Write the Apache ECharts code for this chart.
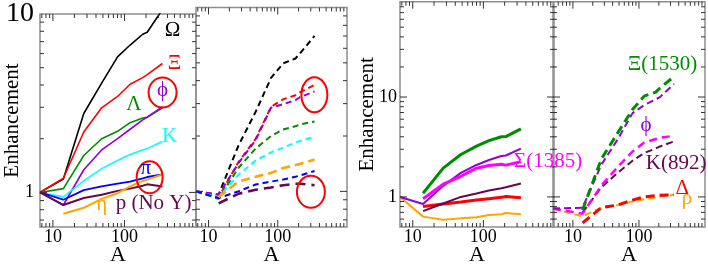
<!DOCTYPE html>
<html><head><meta charset="utf-8">
<script src="https://cdn.jsdelivr.net/npm/echarts@6/dist/echarts.min.js"></script>
<style>html,body{margin:0;padding:0;background:#fff}#c{width:708px;height:271px}</style>
</head><body><div id="c"></div>
<script>
// ---------- DATA ----------
const A_LEFT  = [6.6, 14, 27, 48, 80, 120, 180, 208, 340];   // panels 1-3
const A_RIGHT = [5,   14, 27, 48, 80, 120, 180, 208, 340];   // panel 4
const X_TICK_LABELS = [10, 100];
const Y_TICK_LABELS = [1, 10];

// Panel 1 (solid)
const omegaS  = [1, 1.19, 2.77, 4.1, 5.75, 6.7, 7.7, 7.9, 10.6];
const xiS     = [1, 1.20, 2.18, 2.98, 3.45, 4.04, 4.4, 4.57, 5.28];
const lambdaS = [1, 1.05, 1.61, 2.0, 2.2, 2.46, 2.61, 2.64, 2.98];
const phiS    = [1, 0.85, 1.34, 1.73, 2.0, 2.26, 2.55, 2.64, 3.02];
const kaonS   = [1, 0.945, 1.16, 1.36, 1.51, 1.63, 1.73, 1.76, 1.93];
const pionS   = [1, 0.91, 1.03, 1.08, 1.12, 1.15, 1.2, 1.22, 1.26];
const protS   = [1, 0.85, 0.93, 0.97, 1.02, 1.05, 1.09, 1.11, 1.08];
const etaS    = [null, 0.76, 0.82, 0.92, 0.99, 1.08, 1.16, 1.18, 1.26];

// Panel 2 (dashed)
const omegaD  = [1, 0.96, 1.77, 2.71, 4.14, 4.97, 5.28, 5.61, 7.0];
const xiD     = [1, 0.93, 1.44, 1.93, 2.88, 3.17, 3.33, 3.45, 3.8];
const lambdaD = [1, 0.91, 1.34, 1.71, 2.0, 2.17, 2.26, 2.31, 2.4];
const phiD    = [1, 0.96, 1.42, 1.9, 2.85, 2.98, 3.13, 3.25, 3.5];
const kaonD   = [1, 0.93, 1.23, 1.47, 1.63, 1.73, 1.84, 1.88, 1.98];
const pionD   = [1, 0.92, 1.0, 1.09, 1.13, 1.16, 1.2, 1.22, 1.29];
const protD   = [null, 0.86, 0.97, 1.02, 1.05, 1.08, 1.1, 1.1, 1.08];
const etaD    = [null, 0.93, 1.13, 1.2, 1.26, 1.34, 1.39, 1.41, 1.49];

// Panel 3 (solid, resonances)
const xi1530S = [null, 1.09, 1.94, 2.66, 3.22, 3.66, 4.0, 4.02, 4.8];
const phiRS   = [1, 0.85, 1.29, 1.74, 2.09, 2.34, 2.57, 2.6, 3.04];
const sigmaS  = [null, 0.96, 1.34, 1.61, 1.94, 2.06, 2.12, 2.08, 2.25];
const kstarS  = [null, 0.72, 0.86, 1.0, 1.08, 1.16, 1.22, 1.25, 1.36];
const deltaS  = [null, 0.8, 0.85, 0.89, 0.93, 0.96, 0.99, 1.01, 0.98];
const rhoS    = [1, 0.635, 0.59, 0.61, 0.625, 0.66, 0.67, 0.69, 0.67];

// Panel 4 (dashed, resonances)
const xi1530D = [null, 0.74, 2.4, 4.4, 7.5, 10.2, 11.2, 12.3, 16.0];
const phiRD   = [0.765, 0.78, 2.1, 3.8, 6.9, 8.3, 9.5, 10.0, 13.5];
const sigmaD  = [0.765, 0.68, 1.3, 2.0, 2.85, 3.5, 3.8, 3.9, 4.1];
const kstarD  = [null, 0.7, 1.25, 1.75, 2.3, 2.75, 3.05, 3.2, 3.6];
const deltaD  = [null, 0.55, 0.78, 0.83, 0.93, 1.0, 1.03, 1.04, 1.05];
const rhoD    = [0.76, 0.64, 0.78, 0.83, 0.9, 0.95, 0.99, 1.01, 1.05];

// ---------- STYLE ----------
const FONT = '"Liberation Serif","DejaVu Serif",serif';
const C = {black:'#000000', red:'#ff0000', green:'#008c00', purple:'#9400d3', cyan:'#00ffff',
           blue:'#0000ff', maroon:'#67074e', orange:'#ffa500', magenta:'#ff00ff'};

const seriesDefs = [
  [0, A_LEFT, omegaS, C.black, 1.6, null],
  [0, A_LEFT, xiS, C.red, 1.6, null],
  [0, A_LEFT, lambdaS, C.green, 1.6, null],
  [0, A_LEFT, phiS, C.purple, 1.6, null],
  [0, A_LEFT, kaonS, C.cyan, 1.6, null],
  [0, A_LEFT, pionS, C.blue, 1.8, null],
  [0, A_LEFT, protS, C.maroon, 2, null],
  [0, A_LEFT, etaS, C.orange, 2, null],
  [1, A_LEFT, omegaD, C.black, 2, [6,4]],
  [1, A_LEFT, xiD, C.red, 2, [6,4]],
  [1, A_LEFT, lambdaD, C.green, 2, [6,4]],
  [1, A_LEFT, phiD, C.purple, 2, [6,4]],
  [1, A_LEFT, kaonD, C.cyan, 2, [6,4]],
  [1, A_LEFT, pionD, C.blue, 2, [6,4]],
  [1, A_LEFT, protD, C.maroon, 2.6, [10,6]],
  [1, A_LEFT, etaD, C.orange, 2.6, [9,5]],
  [2, A_LEFT, rhoS, C.orange, 2, null],
  [2, A_LEFT, deltaS, C.red, 3, null],
  [2, A_LEFT, kstarS, C.maroon, 2, null],
  [2, A_LEFT, phiRS, C.purple, 2, null],
  [2, A_LEFT, sigmaS, C.magenta, 3, null],
  [2, A_LEFT, xi1530S, C.green, 3, null],
  [3, A_RIGHT, rhoD, C.orange, 2, [7,4]],
  [3, A_RIGHT, deltaD, C.red, 3, [9,5]],
  [3, A_RIGHT, kstarD, C.maroon, 2, [7,4]],
  [3, A_RIGHT, sigmaD, C.magenta, 2.5, [8,5]],
  [3, A_RIGHT, phiRD, C.purple, 2, [7,4]],
  [3, A_RIGHT, xi1530D, C.green, 3, [9,5]]
];

const LABELS = [
  [0, 470, 8.08, 'Ω', C.black], [0, 502, 5.28, 'Ξ', C.red], [0, 341, 3.71, 'ϕ', C.purple],
  [0, 135, 3.13, 'Λ', C.green], [0, 427, 2.05, 'K', C.cyan], [0, 198, 1.355, 'π', C.blue],
  [0, 255, 0.864, 'p (No Y)', C.maroon], [0, 48, 0.854, 'η', C.orange],
  [2, 828, 2.24, 'Σ(1385)', C.magenta],
  [3, 228, 21.4, 'Ξ(1530)', C.green], [3, 128, 5.23, 'ϕ', C.purple], [3, 366, 2.14, 'K(892)', C.maroon],
  [3, 451, 1.22, 'Δ', C.red], [3, 536, 0.956, 'ρ', C.orange]
];
const ELLIPSES = [
  [0, 341, 3.63, 14, 15], [0, 225, 1.215, 13, 16],
  [1, 338, 3.35, 13, 17.5], [1, 301, 0.994, 14, 16]
];

const grids = [
  {left:40, top:7.5, width:156, height:226.5},
  {left:196, top:7.5, width:151, height:226.5},
  {left:400, top:1.7, width:154, height:232.3},
  {left:553, top:1.7, width:152, height:232.3}
];
const X_EXT = [[6.6,1000],[6.6,1000],[6.6,1000],[5,1000]];
const Y_EXT = [[0.64,10],[0.64,10],[0.5,90],[0.5,90]];

const isIn = (arr, v) => arr.some(t => Math.abs(Math.log10(v) - Math.log10(t)) < 1e-6);

const chart = echarts.init(document.getElementById('c'));
const option = {
  animation: false,
  backgroundColor: '#fff',
  grid: grids.map(g => Object.assign({show:true, borderColor:'#8e8e8e', borderWidth:1.5, backgroundColor:'transparent'}, g)),
  xAxis: grids.map((g, i) => ({
    type:'log', logBase:10, gridIndex:i, min:X_EXT[i][0], max:X_EXT[i][1],
    axisLine:{show:false}, axisTick:{show:false}, splitLine:{show:false},
    axisLabel:{fontFamily:FONT, fontSize:18, color:'#000', margin:1,
      formatter: v => isIn(X_TICK_LABELS, v) ? String(Math.round(v)) : ''},
    name:'A', nameLocation:'middle', nameGap:17, nameMoveOverlap:false,
    nameTextStyle:{fontFamily:FONT, fontSize:22, color:'#000'}
  })),
  yAxis: grids.map((g, i) => ({
    type:'log', logBase:10, gridIndex:i, min:Y_EXT[i][0], max:Y_EXT[i][1],
    axisLine:{show:false}, axisTick:{show:false}, splitLine:{show:false},
    axisLabel:{show: i===0 || i===2, fontFamily:FONT, fontSize:18, color:'#000', margin: i===0 ? 6 : 3,
      formatter: v => {
        if (!isIn(Y_TICK_LABELS, v)) return '';
        const s = String(Math.round(v));
        return (i===0 && s==='10') ? '{big|10}' : s;
      },
      rich:{big:{fontFamily:FONT, fontSize:28, color:'#000'}}},
    name: (i===0 || i===2) ? 'Enhancement' : '', nameLocation:'middle', nameRotate:90,
    nameGap: i===0 ? 17 : 22, nameMoveOverlap:false,
    nameTextStyle:{fontFamily:FONT, fontSize:21, color:'#000'}
  })),
  series: seriesDefs.map(([g, xs, ys, color, w, dash]) => ({
    type:'line', xAxisIndex:g, yAxisIndex:g, showSymbol:false, symbol:'none', clip:true,
    connectNulls:false,
    data: xs.map((x, k) => ys[k] == null ? null : [x, ys[k]]).filter(d => d),
    lineStyle:{color, width:w, type: dash ? dash : 'solid', cap:'butt'},
    itemStyle:{color}
  }))
};
chart.setOption(option);

// ---------- ticks, labels, ellipses via library scales ----------
const graphics = [];
function logTicks(lo, hi) {
  const out = [];
  for (let d = Math.floor(Math.log10(lo)); d <= Math.ceil(Math.log10(hi)); d++) {
    for (let k = 1; k <= 9; k++) {
      const v = k * Math.pow(10, d);
      if (v > lo * 1.0001 && v < hi * 0.9999) out.push([v, k === 1]);
    }
  }
  return out;
}
function seg(x1, y1, x2, y2) {
  graphics.push({type:'line', silent:true, z:50, shape:{x1, y1, x2, y2}, style:{stroke:'#333', lineWidth:1}});
}
grids.forEach((g, i) => {
  const p0 = chart.convertToPixel({gridIndex:i}, [X_EXT[i][0], Y_EXT[i][0]]);
  const p1 = chart.convertToPixel({gridIndex:i}, [X_EXT[i][1], Y_EXT[i][1]]);
  const xl = p0[0], xr = p1[0], yb = p0[1], yt = p1[1];
  logTicks(X_EXT[i][0], X_EXT[i][1]).forEach(([v, major]) => {
    const px = chart.convertToPixel({gridIndex:i}, [v, Y_EXT[i][0]])[0];
    const L = major ? 7 : 4;
    seg(px, yb, px, yb - L); seg(px, yt, px, yt + L);
  });
  logTicks(Y_EXT[i][0], Y_EXT[i][1]).forEach(([v, major]) => {
    const py = chart.convertToPixel({gridIndex:i}, [X_EXT[i][0], v])[1];
    const L = major ? 7 : 4;
    seg(xl, py, xl + L, py); seg(xr, py, xr - L, py);
  });
});
ELLIPSES.forEach(([g, a, v, rx, ry]) => {
  const p = chart.convertToPixel({gridIndex:g}, [a, v]);
  graphics.push({type:'ellipse', silent:true, z:60, shape:{cx:p[0], cy:p[1], rx, ry},
    style:{fill:'none', stroke:'#ff0000', lineWidth:2}});
});
LABELS.forEach(([g, a, v, text, color]) => {
  const p = chart.convertToPixel({gridIndex:g}, [a, v]);
  graphics.push({type:'text', silent:true, z:70, x:p[0], y:p[1],
    style:{text, fill:color, fontFamily:FONT, fontSize:21, align:'center', verticalAlign:'middle'}});
});
chart.setOption({graphic: graphics});
</script>
</body></html>
